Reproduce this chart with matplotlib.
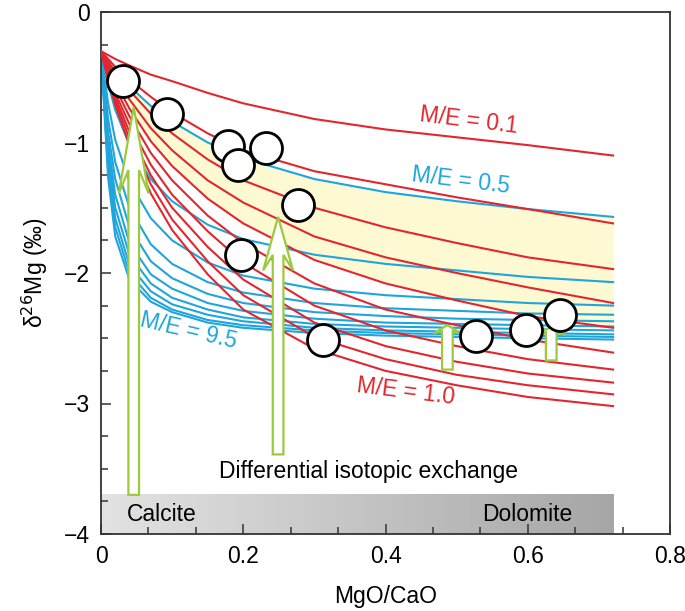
import matplotlib
matplotlib.use("Agg")
import matplotlib.pyplot as plt
import numpy as np
from matplotlib.patches import FancyArrow
from matplotlib.colors import LinearSegmentedColormap
from matplotlib.ticker import MultipleLocator, AutoMinorLocator, FuncFormatter

plt.rcParams['font.family'] = ['Liberation Sans', 'DejaVu Sans']

# MgO/CaO positions where the model curves were read
mgo_cao = [0, 0.01, 0.02, 0.04, 0.07, 0.1, 0.15, 0.2, 0.3, 0.4, 0.5, 0.6, 0.72]

# red model curves, M/E = 0.1 ... 1.0
red_me = [0.1, 0.2, 0.3, 0.4, 0.5, 0.6, 0.7, 0.8, 0.9, 1.0]
red_curves = [
    [-0.30, -0.33, -0.36, -0.41, -0.48, -0.53, -0.62, -0.70, -0.82, -0.90, -0.96, -1.02, -1.10],
    [-0.30, -0.36, -0.42, -0.52, -0.65, -0.77, -0.93, -1.06, -1.22, -1.32, -1.42, -1.51, -1.62],
    [-0.30, -0.38, -0.46, -0.60, -0.78, -0.93, -1.13, -1.29, -1.50, -1.65, -1.77, -1.88, -1.97],
    [-0.30, -0.40, -0.50, -0.67, -0.89, -1.06, -1.29, -1.46, -1.72, -1.88, -2.00, -2.11, -2.23],
    [-0.30, -0.42, -0.54, -0.74, -0.99, -1.18, -1.43, -1.62, -1.90, -2.08, -2.21, -2.33, -2.42],
    [-0.30, -0.44, -0.58, -0.80, -1.08, -1.29, -1.56, -1.77, -2.08, -2.28, -2.40, -2.51, -2.61],
    [-0.30, -0.46, -0.62, -0.86, -1.17, -1.40, -1.68, -1.92, -2.25, -2.44, -2.56, -2.66, -2.74],
    [-0.30, -0.48, -0.65, -0.92, -1.25, -1.50, -1.80, -2.05, -2.38, -2.56, -2.68, -2.77, -2.84],
    [-0.30, -0.50, -0.68, -0.97, -1.32, -1.59, -1.91, -2.17, -2.49, -2.66, -2.78, -2.86, -2.93],
    [-0.30, -0.52, -0.71, -1.02, -1.39, -1.67, -2.01, -2.28, -2.58, -2.75, -2.86, -2.95, -3.02],
]

# blue model curves, M/E = 0.5 ... 9.5
blue_me = [0.5, 1.5, 2.5, 3.5, 4.5, 5.5, 6.5, 7.5, 8.5, 9.5]
blue_curves = [
    [-0.30, -0.38, -0.45, -0.57, -0.72, -0.84, -1.00, -1.12, -1.28, -1.38, -1.45, -1.51, -1.57],
    [-0.30, -0.55, -0.75, -1.02, -1.28, -1.45, -1.63, -1.74, -1.86, -1.93, -1.98, -2.03, -2.07],
    [-0.30, -0.70, -0.98, -1.30, -1.58, -1.75, -1.92, -2.02, -2.12, -2.17, -2.20, -2.23, -2.25],
    [-0.30, -0.82, -1.15, -1.50, -1.78, -1.93, -2.07, -2.15, -2.23, -2.27, -2.29, -2.31, -2.32],
    [-0.30, -0.92, -1.28, -1.65, -1.91, -2.04, -2.16, -2.23, -2.30, -2.33, -2.35, -2.36, -2.37],
    [-0.30, -1.00, -1.40, -1.77, -2.01, -2.12, -2.23, -2.29, -2.35, -2.38, -2.39, -2.40, -2.41],
    [-0.30, -1.08, -1.50, -1.86, -2.08, -2.19, -2.28, -2.34, -2.39, -2.41, -2.42, -2.43, -2.44],
    [-0.30, -1.15, -1.58, -1.94, -2.14, -2.24, -2.32, -2.37, -2.42, -2.44, -2.45, -2.46, -2.47],
    [-0.30, -1.21, -1.65, -2.00, -2.19, -2.28, -2.36, -2.40, -2.44, -2.46, -2.47, -2.48, -2.49],
    [-0.30, -1.27, -1.72, -2.05, -2.22, -2.30, -2.38, -2.42, -2.46, -2.48, -2.49, -2.50, -2.51],
]

# measured samples
sample_x = [0.031, 0.093, 0.178, 0.193, 0.232, 0.277, 0.197, 0.312, 0.527, 0.597, 0.646]
sample_y = [-0.53, -0.78, -1.03, -1.17, -1.04, -1.48, -1.86, -2.51, -2.48, -2.44, -2.32]

# exchange arrows: x, start, tip
arrow_x = [0.046, 0.249, 0.487, 0.633]
arrow_y0 = [-3.70, -3.39, -2.74, -2.67]
arrow_y1 = [-0.73, -1.57, -2.40, -2.41]

red_c = '#e3262e'
blue_c = '#1fa5dc'
green_c = '#9dc93c'
fs = 16.5

fig = plt.figure(figsize=(6.85, 6.11), dpi=100)
ax = fig.add_axes([101/685, 1-534/611, 569/685, 522/611])

# shaded range between the two M/E = 0.5 curves
ax.fill_between(mgo_cao, blue_curves[0], red_curves[4], color='#fdf9d3', lw=0, zorder=1)

for ys in red_curves:
    ax.plot(mgo_cao, ys, color=red_c, lw=1.5, zorder=3)
for ys in blue_curves:
    ax.plot(mgo_cao, ys, color=blue_c, lw=1.5, zorder=2)

# calcite -> dolomite bar
grad = np.linspace(0, 1, 256).reshape(1, -1)
gcm = LinearSegmentedColormap.from_list('g', ['#e3e3e3', '#a6a6a6'])
ax.imshow(grad, extent=[0, 0.72, -4, -3.7], aspect='auto', cmap=gcm, zorder=1)
ax.text(0.036, -3.85, 'Calcite', fontsize=fs, ha='left', va='center', zorder=6)
ax.text(0.60, -3.85, 'Dolomite', fontsize=fs, ha='center', va='center', zorder=6)

heads = [(0.042, 0.66, 0.27), (0.042, 0.41, 0.29), (0.040, 0.065, 0.3), (0.040, 0.065, 0.3)]
for i in range(len(arrow_x)):
    hw, hl, oh = heads[i]
    ar = FancyArrow(arrow_x[i], arrow_y0[i], 0, arrow_y1[i] - arrow_y0[i], width=0.015,
                    head_width=hw, head_length=hl, overhang=oh, length_includes_head=True,
                    facecolor='white', edgecolor=green_c, lw=1.6, zorder=5)
    ax.add_patch(ar)

ax.scatter(sample_x, sample_y, s=530, facecolor='white', edgecolor='black', lw=2, zorder=7)

ax.text(0.517, -0.83, 'M/E = 0.1', color=red_c, fontsize=fs, rotation=-7, ha='center', va='center')
ax.text(0.506, -1.29, 'M/E = 0.5', color=blue_c, fontsize=fs, rotation=-7, ha='center', va='center')
ax.text(0.123, -2.44, 'M/E = 9.5', color=blue_c, fontsize=fs, rotation=-13, ha='center', va='center')
ax.text(0.428, -2.91, 'M/E = 1.0', color=red_c, fontsize=fs, rotation=-7, ha='center', va='center')
ax.text(0.376, -3.52, 'Differential isotopic exchange', fontsize=fs, ha='center', va='center')

ax.set_xlim(0, 0.8)
ax.set_ylim(-4, 0)
ax.xaxis.set_major_locator(MultipleLocator(0.2))
ax.xaxis.set_minor_locator(AutoMinorLocator(3))
ax.xaxis.set_major_formatter(FuncFormatter(lambda v, p: '0' if abs(v) < 1e-9 else '{:.1f}'.format(v)))
ax.yaxis.set_major_locator(MultipleLocator(1))
ax.yaxis.set_minor_locator(AutoMinorLocator(4))
ax.tick_params(which='both', direction='in', top=False, right=False, colors='#333333',
               labelcolor='black', labelsize=fs, width=1.1)
ax.tick_params(which='major', length=7.5, pad=8)
ax.tick_params(which='minor', length=5)
for s in ax.spines.values():
    s.set_color('#333333')
    s.set_linewidth(1.3)

ax.set_xlabel('MgO/CaO', fontsize=fs, labelpad=12)
ax.set_ylabel('δ$^{26}$Mg (‰)', fontsize=fs, labelpad=10)

plt.savefig('out.png', dpi=100)
